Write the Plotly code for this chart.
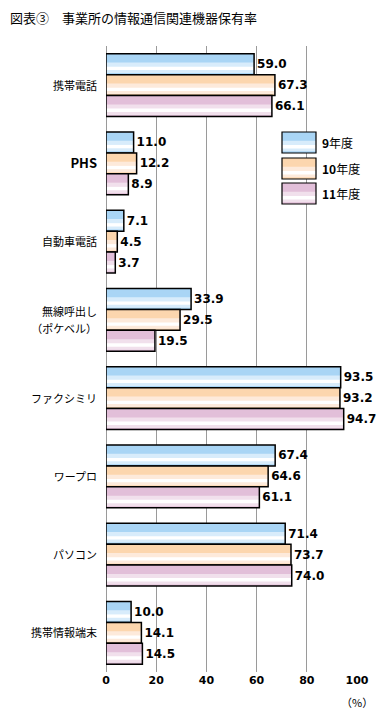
import plotly.graph_objects as go

categories = ["携帯電話", "PHS", "自動車電話", "無線呼出し<br>（ポケベル）",
              "ファクシミリ", "ワープロ", "パソコン", "携帯情報端末"]
series_names = ["9年度", "10年度", "11年度"]
v9 = [59.0, 11.0, 7.1, 33.9, 93.5, 67.4, 71.4, 10.0]
v10 = [67.3, 12.2, 4.5, 29.5, 93.2, 64.6, 73.7, 14.1]
v11 = [66.1, 8.9, 3.7, 19.5, 94.7, 61.1, 74.0, 14.5]
series_values = [v9, v10, v11]
x_ticks = [0, 20, 40, 60, 80, 100]

base_colors = ["#a9d5f5", "#fcd6ae", "#e2bfd9"]
light_colors = ["#d8ecfb", "#fdeadb", "#f1e0ec"]

# page body has an 8px margin; target pixel geometry is in window coordinates
OFF = 8
W, H = 389 - OFF, 713 - OFF
PL, PR, PT, PB = 106, 357, 46, 672  # plot area in window pixels
L, R, T, B = PL - OFF, 389 - PR, PT - OFF, 713 - PB
plot_w = PR - PL
plot_h = PB - PT

bar_w = 0.268
ypos = list(range(len(categories)))


def fmt_label(c):
    if c == "PHS":
        return '<span style="font-size:13px"><b>PHS</b></span>'
    return '<span style="font-size:11px">' + c.replace("<br>", '</span><br><span style="font-size:11px">') + "</span>"


fig = go.Figure()
for i, (name, vals) in enumerate(zip(series_names, series_values)):
    off = -1.5 * bar_w + i * bar_w
    fig.add_trace(go.Bar(x=vals, y=ypos, orientation="h", width=bar_w, offset=off,
                         marker=dict(color=base_colors[i], line=dict(width=0)),
                         showlegend=False, hoverinfo="skip"))
    fig.add_trace(go.Bar(x=vals, y=ypos, orientation="h", width=bar_w * 0.5, offset=off + bar_w * 0.42,
                         marker=dict(color=light_colors[i], line=dict(width=0)),
                         showlegend=False, hoverinfo="skip"))
    fig.add_trace(go.Bar(x=vals, y=ypos, orientation="h", width=bar_w * 0.16, offset=off + bar_w * 0.62,
                         marker=dict(color="#ffffff", line=dict(width=0)),
                         showlegend=False, hoverinfo="skip"))
    fig.add_trace(go.Bar(x=vals, y=ypos, orientation="h", width=bar_w, offset=off,
                         name=name,
                         marker=dict(color="rgba(0,0,0,0)", line=dict(color="#000000", width=1.5)),
                         text=[f"{v:.1f}" for v in vals], textposition="outside",
                         textfont=dict(family="DejaVu Sans", size=12, color="#000000", weight="bold"),
                         cliponaxis=False, showlegend=False))


def px_x(p):
    return (p - PL) / plot_w


def px_y(p):
    return (PB - p) / plot_h


shapes = []
annotations = []
legend_boxes = [(132, 153), (158, 179), (183, 204)]
for i, (y0, y1) in enumerate(legend_boxes):
    hgt = y1 - y0
    shapes.append(dict(type="rect", xref="paper", yref="paper", x0=px_x(282), x1=px_x(316),
                       y0=px_y(y1), y1=px_y(y0), fillcolor=base_colors[i], line=dict(width=0), layer="above"))
    shapes.append(dict(type="rect", xref="paper", yref="paper", x0=px_x(282), x1=px_x(316),
                       y0=px_y(y0 + hgt * 0.92), y1=px_y(y0 + hgt * 0.42), fillcolor=light_colors[i],
                       line=dict(width=0), layer="above"))
    shapes.append(dict(type="rect", xref="paper", yref="paper", x0=px_x(282), x1=px_x(316),
                       y0=px_y(y0 + hgt * 0.78), y1=px_y(y0 + hgt * 0.62), fillcolor="#ffffff",
                       line=dict(width=0), layer="above"))
    shapes.append(dict(type="rect", xref="paper", yref="paper", x0=px_x(282), x1=px_x(316),
                       y0=px_y(y1), y1=px_y(y0), fillcolor="rgba(0,0,0,0)",
                       line=dict(color="#000000", width=1.2), layer="above"))
    annotations.append(dict(xref="paper", yref="paper", x=px_x(320), y=px_y((y0 + y1) / 2),
                            xanchor="left", yanchor="middle", showarrow=False,
                            text="<b>" + series_names[i].replace("年度", "") + "</b>年度",
                            font=dict(family="Noto Sans CJK JP", size=12, color="#000000")))

annotations.append(dict(xref="x", yref="paper", x=100, y=0, yanchor="top", yshift=-20,
                        showarrow=False, text="（%）",
                        font=dict(family="Noto Sans CJK JP", size=11, color="#000000")))

fig.update_layout(
    width=W, height=H,
    margin=dict(l=L, r=R, t=T, b=B, pad=0),
    paper_bgcolor="#ffffff", plot_bgcolor="#ffffff",
    barmode="overlay",
    title=dict(text="図表③　事業所の情報通信関連機器保有率", x=(10 - OFF) / W, xanchor="left",
               y=1 - (18.5 - OFF) / H, yanchor="middle",
               font=dict(family="Noto Sans CJK JP", size=13, color="#000000")),
    xaxis=dict(range=[0, 100], tickvals=x_ticks, ticktext=[str(t) for t in x_ticks],
               showgrid=True, gridcolor="#9a9a9a", gridwidth=1,
               zeroline=True, zerolinecolor="#9a9a9a", zerolinewidth=1,
               showline=False, ticks="",
               tickfont=dict(family="DejaVu Sans", size=11, color="#000000", weight="bold")),
    yaxis=dict(range=[len(categories) - 0.5, -0.5], tickvals=ypos,
               ticktext=[fmt_label(c) for c in categories],
               showgrid=False, zeroline=False, showline=False, ticks="",
               ticklabelstandoff=8,
               tickfont=dict(family="Noto Sans CJK JP", size=13, color="#000000")),
    shapes=shapes,
    annotations=annotations,
    font=dict(family="Noto Sans CJK JP", color="#000000"),
)

fig.write_html("out.html")
